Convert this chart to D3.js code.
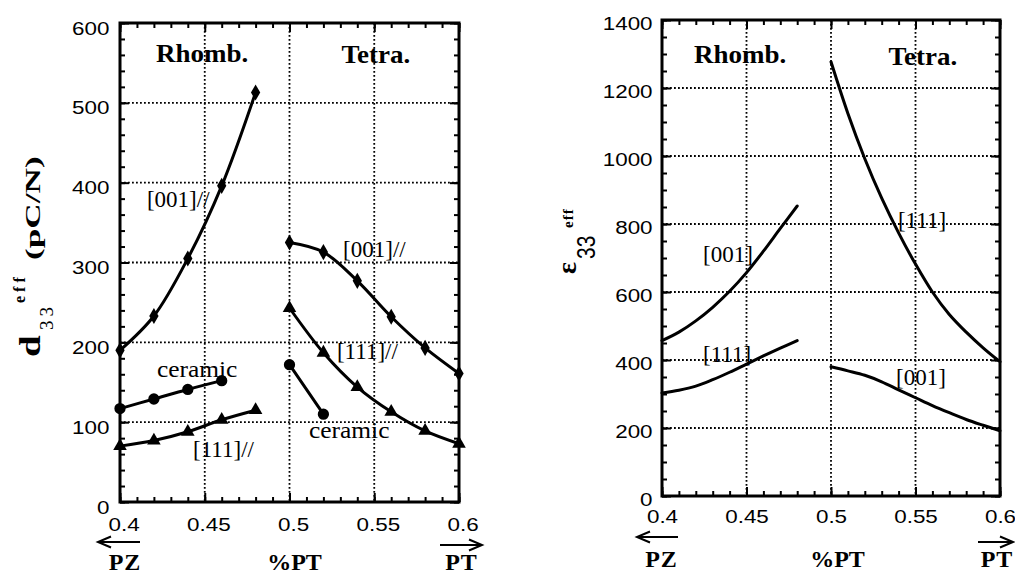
<!DOCTYPE html>
<html><head><meta charset="utf-8">
<script src="https://cdn.jsdelivr.net/npm/d3@7"></script>
<style>
body{margin:0;background:#fff;}
svg{display:block;}
</style></head><body>
<svg id="fig" width="1015" height="574"></svg>
<script>
// ---- axis ticks (fraction of PT, d33, eps33) ----
const pctMajor = [0.4, 0.45, 0.5, 0.55, 0.6];
const pctLabels = ["0.4", "0.45", "0.5", "0.55", "0.6"];
const pctMinor = d3.range(40, 61).map(v => v / 100);
const pctGrid = [0.45, 0.5, 0.55];

const d33Major = [0, 100, 200, 300, 400, 500, 600];
const d33Minor = d3.range(0, 601, 20);
const d33Grid = [100, 200, 300, 400, 500];

const epsMajor = [0, 200, 400, 600, 800, 1000, 1200, 1400];
const epsMinor = d3.range(0, 1401, 50);
const epsGrid = [200, 400, 600, 800, 1000, 1200];

// ---- d33 (pC/N) ----
const xRhomb = [0.40, 0.42, 0.44, 0.46, 0.48];
const d33Rhomb001 = [190, 233, 305, 396, 513];
const d33Rhomb111 = [70, 77, 88, 103, 115];
const xRhombCeramic = [0.40, 0.42, 0.44, 0.46];
const d33RhombCeramic = [117, 129, 141, 152];
const xTetra = [0.50, 0.52, 0.54, 0.56, 0.58, 0.60];
const d33Tetra001 = [325, 313, 277, 232, 193, 161];
const d33Tetra111 = [243, 187, 144, 113, 89, 73];
const xTetraCeramic = [0.50, 0.52];
const d33TetraCeramic = [172, 110];

// ---- eps33 ----
const xEpsRhomb = [0.40, 0.41, 0.42, 0.43, 0.44, 0.45, 0.46, 0.47, 0.48];
const epsRhomb001 = [457, 482, 515, 555, 602, 657, 720, 787, 853];
const epsRhomb111 = [303, 311, 323, 342, 364, 388, 412, 435, 457];
const xEpsTetra = [0.50, 0.51, 0.52, 0.53, 0.54, 0.55, 0.56, 0.57, 0.58, 0.59, 0.60];
const epsTetra111 = [1277, 1125, 992, 876, 774, 682, 600, 534, 482, 436, 395];
const epsTetra001 = [380, 368, 355, 336, 312, 289, 266, 245, 225, 208, 192];

const svg = d3.select("#fig");
const SERIF = "'Liberation Serif','Times New Roman',serif";
const SANS = "'Liberation Sans',Arial,sans-serif";

function text(g, str, x, y, o = {}) {
  return g.append("text")
    .attr("transform", `translate(${x},${y}) scale(${o.sx || 1},${o.sy || 1})`)
    .attr("text-anchor", o.anchor || "start")
    .style("font-family", o.family || SERIF)
    .style("font-size", (o.size || 23) + "px")
    .style("font-weight", o.weight || "normal")
    .style("letter-spacing", (o.ls || 0) + "px")
    .attr("fill", "#000")
    .text(str);
}

function arrow(g, xa, xb, y, tipLeft) {
  const tip = tipLeft ? xa : xb;
  const d = tipLeft ? 1 : -1;
  g.append("path")
    .attr("d", `M${xa},${y}H${xb}M${tip + d * 13},${y - 5.5}L${tip},${y}L${tip + d * 13},${y + 5.5}`)
    .attr("fill", "none").attr("stroke", "#000").attr("stroke-width", 2);
}

function panel(cfg) {
  const g = svg.append("g");
  const x = d3.scaleLinear().domain([0.4, 0.6]).range([cfg.x0, cfg.x1]);
  const y = d3.scaleLinear().domain([0, cfg.yMax]).range([cfg.y1, cfg.y0]);

  // dotted grid
  const grid = g.append("g").attr("stroke", "#000").attr("stroke-width", 1.8)
    .attr("stroke-dasharray", "1.8,2.2");
  grid.selectAll(".gx").data(pctGrid).join("line")
    .attr("x1", d => x(d)).attr("x2", d => x(d)).attr("y1", cfg.y0).attr("y2", cfg.y1);
  grid.selectAll(".gy").data(cfg.grid).join("line")
    .attr("y1", d => y(d)).attr("y2", d => y(d)).attr("x1", cfg.x0).attr("x2", cfg.x1);

  // inward ticks on all four sides
  const tickLayer = (axis, tx, ty) => {
    const a = g.append("g").attr("transform", `translate(${tx},${ty})`).call(axis);
    a.select(".domain").remove();
    a.selectAll("line").attr("stroke", "#000").attr("stroke-width", 2);
    return a;
  };
  tickLayer(d3.axisBottom(x).tickValues(pctMinor).tickSize(-5).tickFormat(""), 0, cfg.y1);
  tickLayer(d3.axisTop(x).tickValues(pctMinor).tickSize(-5).tickFormat(""), 0, cfg.y0);
  tickLayer(d3.axisLeft(y).tickValues(cfg.minor).tickSize(-5).tickFormat(""), cfg.x0, 0);
  tickLayer(d3.axisRight(y).tickValues(cfg.minor).tickSize(-5).tickFormat(""), cfg.x1, 0);
  tickLayer(d3.axisTop(x).tickValues(pctMajor).tickSize(-9).tickFormat(""), 0, cfg.y0);
  tickLayer(d3.axisRight(y).tickValues(cfg.major).tickSize(-9).tickFormat(""), cfg.x1, 0);

  const ax = tickLayer(d3.axisBottom(x).tickValues(pctMajor).tickSize(-9)
    .tickFormat((d, i) => pctLabels[i]).tickPadding(cfg.xPad), 0, cfg.y1);
  const ay = tickLayer(d3.axisLeft(y).tickValues(cfg.major).tickSize(-9)
    .tickFormat(d3.format("d")).tickPadding(cfg.yPad), cfg.x0, 0);
  [ax, ay].forEach(a => a.selectAll("text")
    .attr("fill", "#000")
    .style("font-family", SANS).style("font-size", "19px")
    .attr("transform", "scale(1.18,1)"));
  ay.selectAll("text").attr("dy", (cfg.yShift / 19 + 0.32) + "em");
  ax.selectAll("text").attr("dx", cfg.xShift);

  // curves and markers
  const line = d3.line().x(d => x(d[0])).y(d => y(d[1])).curve(d3.curveCatmullRom.alpha(0.5));
  cfg.series.forEach(s => {
    const pts = s.x.map((v, i) => [v, s.y[i]]);
    g.append("path").datum(pts).attr("d", line)
      .attr("fill", "none").attr("stroke", "#000").attr("stroke-width", 3)
      .attr("stroke-linejoin", "round").attr("stroke-linecap", "round");
    if (s.symbol) {
      g.selectAll(null).data(pts).join("path")
        .attr("transform", d => `translate(${x(d[0])},${y(d[1])})`)
        .attr("d", d3.symbol().type(s.symbol).size(s.size))
        .attr("fill", "#000");
    }
  });

  // frame
  g.append("rect").attr("x", cfg.x0).attr("y", cfg.y0)
    .attr("width", cfg.x1 - cfg.x0).attr("height", cfg.y1 - cfg.y0)
    .attr("fill", "none").attr("stroke", "#000").attr("stroke-width", 3);

  // phase names and series labels
  cfg.notes.forEach(n => text(g, n.t, x(n.x), y(n.y), n.o));
  return { g, x, y };
}

// ---- left panel: d33 ----
const left = panel({
  x0: 120, x1: 459, y0: 23, y1: 502, yMax: 600,
  major: d33Major, minor: d33Minor, grid: d33Grid,
  xPad: 16, yPad: 9, yShift: 5, xShift: 3,
  series: [
    { x: xRhomb, y: d33Rhomb001, symbol: d3.symbolDiamond, size: 75 },
    { x: xRhomb, y: d33Rhomb111, symbol: d3.symbolTriangle, size: 80 },
    { x: xRhombCeramic, y: d33RhombCeramic, symbol: d3.symbolCircle, size: 100 },
    { x: xTetra, y: d33Tetra001, symbol: d3.symbolDiamond, size: 75 },
    { x: xTetra, y: d33Tetra111, symbol: d3.symbolTriangle, size: 80 },
    { x: xTetraCeramic, y: d33TetraCeramic, symbol: d3.symbolCircle, size: 100 }
  ],
  notes: [
    { t: "Rhomb.", x: 0.4484, y: 551, o: { weight: "bold", size: 25, anchor: "middle", sx: 1.08 } },
    { t: "Tetra.", x: 0.551, y: 550, o: { weight: "bold", size: 25, anchor: "middle", sx: 1.08 } },
    { t: "[001]//", x: 0.4159, y: 369, o: { size: 23 } },
    { t: "[001]//", x: 0.5316, y: 307, o: { size: 23 } },
    { t: "[111]//", x: 0.528, y: 179, o: { size: 23 } },
    { t: "ceramic", x: 0.4218, y: 157, o: { size: 24, sx: 1.06 } },
    { t: "ceramic", x: 0.5115, y: 80, o: { size: 24, sx: 1.06 } },
    { t: "[111]//", x: 0.4431, y: 56, o: { size: 23 } }
  ]
});

// ---- right panel: eps33 ----
const right = panel({
  x0: 662, x1: 1000, y0: 20, y1: 496, yMax: 1400,
  major: epsMajor, minor: epsMinor, grid: epsGrid,
  xPad: 14, yPad: 8, yShift: 3, xShift: 0,
  series: [
    { x: xEpsRhomb, y: epsRhomb001 },
    { x: xEpsRhomb, y: epsRhomb111 },
    { x: xEpsTetra, y: epsTetra111 },
    { x: xEpsTetra, y: epsTetra001 }
  ],
  notes: [
    { t: "Rhomb.", x: 0.4462, y: 1273, o: { weight: "bold", size: 25, anchor: "middle", sx: 1.08 } },
    { t: "Tetra.", x: 0.5544, y: 1268, o: { weight: "bold", size: 25, anchor: "middle", sx: 1.08 } },
    { t: "[001]", x: 0.4243, y: 688, o: { size: 23 } },
    { t: "[111]", x: 0.4243, y: 394, o: { size: 23 } },
    { t: "[111]", x: 0.5396, y: 788, o: { size: 23 } },
    { t: "[001]", x: 0.5385, y: 326, o: { size: 23 } }
  ]
});

// ---- axis titles ----
const ttl = svg.append("g");
// d33 eff (pC/N), rotated
const yl = ttl.append("g").attr("transform", "translate(40,357) rotate(-90)");
text(yl, "d", 0, 0, { weight: "bold", size: 29, sx: 1.35 });
text(yl, "33", 27, 13, { size: 19, ls: 4 });
text(yl, "eff", 54, -15, { weight: "bold", size: 16, ls: 4 });
text(yl, "(pC/N)", 97, 0, { weight: "bold", size: 22, sx: 1.6 });

// eps33 eff, rotated
const el = ttl.append("g").attr("transform", "translate(576,274) rotate(-90)");
text(el, "ε", 0, 0, { weight: "bold", size: 28 });
text(el, "33", 15, 19, { family: SANS, size: 21, sy: 1.2 });
text(el, "eff", 46, -3, { weight: "bold", size: 15, ls: 1 });

// composition labels with direction arrows
[
  { pz: 125, pct: 294.5, pt: 461.5, base: 570, la: [98, 140, 542], ra: [440, 482, 545] },
  { pz: 661.5, pct: 837.5, pt: 997, base: 567, la: [637, 678, 537], ra: [978, 1013, 542] }
].forEach(c => {
  text(ttl, "PZ", c.pz, c.base, { weight: "bold", size: 24, anchor: "middle", ls: 1 });
  text(ttl, "%PT", c.pct, c.base, { weight: "bold", size: 24, anchor: "middle" });
  text(ttl, "PT", c.pt, c.base, { weight: "bold", size: 24, anchor: "middle", ls: 1 });
  arrow(ttl, c.la[0], c.la[1], c.la[2], true);
  arrow(ttl, c.ra[0], c.ra[1], c.ra[2], false);
});
</script>
</body></html>
